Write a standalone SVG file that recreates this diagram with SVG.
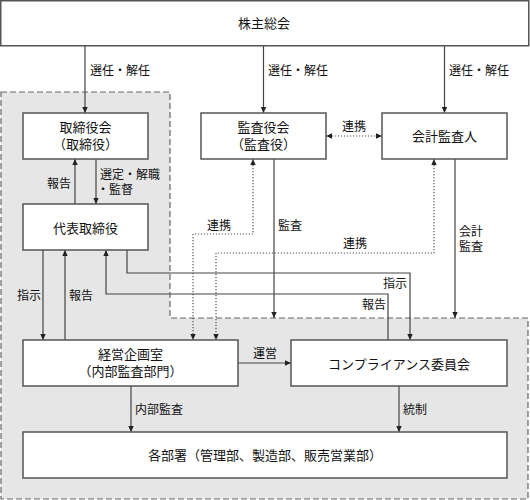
<svg xmlns="http://www.w3.org/2000/svg" width="530" height="500" viewBox="0 0 530 500">
<style>
.box{fill:#fff;stroke:#555;stroke-width:1.5}
.t{font-family:"Noto Sans CJK JP","Noto Sans CJK SC",sans-serif;font-size:13px;fill:#111;text-anchor:middle}
.l{font-family:"Noto Sans CJK JP","Noto Sans CJK SC",sans-serif;font-size:12px;fill:#111}
.c{fill:none;stroke:#444;stroke-width:1.2}
.d{fill:none;stroke:#555;stroke-width:1.2;stroke-dasharray:1.2,1.8}
.region{fill:#e6e6e6;stroke:#666;stroke-width:1.2;stroke-dasharray:6,3}
</style>
<defs>
<marker id="ah" viewBox="0 0 10 10" refX="10" refY="5" markerWidth="6" markerHeight="6" markerUnits="userSpaceOnUse" orient="auto-start-reverse">
<path d="M0,0.5 L10,5 L0,9.5 z" fill="#222"/>
</marker>
</defs>
<rect width="530" height="500" fill="#fff"/>
<path class="region" d="M1,92 H170 V318 H528 V499 H1 Z"/>

<g id="connectors">
<line class="c" x1="85" y1="46" x2="85" y2="113" marker-end="url(#ah)"/>
<line class="c" x1="263.5" y1="46" x2="263.5" y2="113" marker-end="url(#ah)"/>
<line class="c" x1="444.5" y1="46" x2="444.5" y2="113" marker-end="url(#ah)"/>
<line class="d" x1="326" y1="136" x2="382" y2="136" marker-start="url(#ah)" marker-end="url(#ah)"/>
<line class="c" x1="75" y1="204" x2="75" y2="159" marker-end="url(#ah)"/>
<line class="c" x1="96" y1="159" x2="96" y2="204" marker-end="url(#ah)"/>
<polyline class="d" points="253,159 253,234 193,234 193,340" marker-start="url(#ah)" marker-end="url(#ah)"/>
<polyline class="d" points="434,159 434,253 216,253 216,340" marker-start="url(#ah)" marker-end="url(#ah)"/>
<line class="c" x1="274" y1="159" x2="274" y2="318" marker-end="url(#ah)"/>
<line class="c" x1="455" y1="159" x2="455" y2="318" marker-end="url(#ah)"/>
<line class="c" x1="43" y1="250" x2="43" y2="340" marker-end="url(#ah)"/>
<line class="c" x1="65" y1="340" x2="65" y2="250" marker-end="url(#ah)"/>
<polyline class="c" points="127,250 127,273 410,273 410,340" marker-end="url(#ah)"/>
<polyline class="c" points="388,340 388,294 106,294 106,250" marker-end="url(#ah)"/>
<line class="c" x1="238" y1="363" x2="291" y2="363" marker-end="url(#ah)"/>
<line class="c" x1="131" y1="386" x2="131" y2="432" marker-end="url(#ah)"/>
<line class="c" x1="399" y1="386" x2="399" y2="432" marker-end="url(#ah)"/>
<text class="l" x="90" y="74.5">選任・解任</text>
<text class="l" x="268" y="74.5">選任・解任</text>
<text class="l" x="449" y="74.5">選任・解任</text>
<text class="l" x="342" y="130.5">連携</text>
<text class="l" x="47" y="187.5">報告</text>
<text class="l" x="100" y="179">選定・解職</text>
<text class="l" x="97" y="193.5">・監督</text>
<text class="l" x="207" y="229.5">連携</text>
<text class="l" x="278" y="229.5">監査</text>
<text class="l" x="343" y="247.5">連携</text>
<text class="l" x="459" y="236">会計</text>
<text class="l" x="459" y="250.5">監査</text>
<text class="l" x="17" y="299.5">指示</text>
<text class="l" x="69" y="299.5">報告</text>
<text class="l" x="383" y="287.5">指示</text>
<text class="l" x="362" y="308.5">報告</text>
<text class="l" x="253" y="357.5">運営</text>
<text class="l" x="135" y="413.5">内部監査</text>
<text class="l" x="403" y="413.5">統制</text>
</g>

<g id="kabunushi">
<rect class="box" x="0.75" y="0.75" width="528" height="45"/>
<text class="t" x="264" y="28">株主総会</text>
</g>
<g id="torishimariyakukai">
<rect class="box" x="23" y="113" width="125" height="46"/>
<text class="t" x="85.5" y="131.5">取締役会</text>
<text class="t" x="85.5" y="148.5">（取締役）</text>
</g>
<g id="kansayakukai">
<rect class="box" x="201" y="113" width="125" height="46"/>
<text class="t" x="263.5" y="131.5">監査役会</text>
<text class="t" x="263.5" y="148.5">（監査役）</text>
</g>
<g id="kaikeikansanin">
<rect class="box" x="382" y="113" width="125" height="46"/>
<text class="t" x="444.5" y="141">会計監査人</text>
</g>
<g id="daihyo">
<rect class="box" x="23" y="204" width="125" height="46"/>
<text class="t" x="85.5" y="232.5">代表取締役</text>
</g>
<g id="keiei">
<rect class="box" x="23" y="340" width="215" height="46"/>
<text class="t" x="130.5" y="358.5">経営企画室</text>
<text class="t" x="130.5" y="375.5">（内部監査部門）</text>
</g>
<g id="compliance">
<rect class="box" x="291" y="340" width="216" height="46"/>
<text class="t" x="399" y="368.5">コンプライアンス委員会</text>
</g>
<g id="busho">
<rect class="box" x="23" y="432" width="484" height="46"/>
<text class="t" x="265" y="459.5">各部署（管理部、製造部、販売営業部）</text>
</g>
</svg>
